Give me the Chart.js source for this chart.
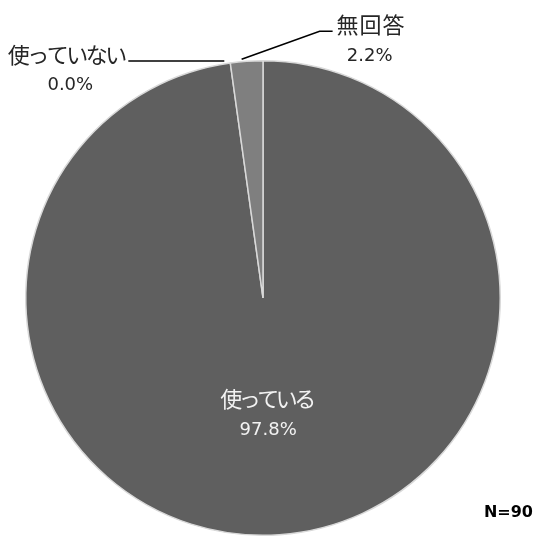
<!DOCTYPE html>
<html><head><meta charset="utf-8">
<script src="https://cdn.jsdelivr.net/npm/chart.js@4"></script>
<style>html,body{margin:0;padding:0;background:#fff;}#wrap{width:536px;height:539px;position:relative;}</style>
</head><body><div id="wrap"><canvas id="c" width="536" height="539"></canvas></div>
<script>
const categories = ['使っている', '使っていない', '無回答'];
const values = [97.8, 0.0, 2.2];
const percentLabels = ['97.8%', '0.0%', '2.2%'];
const sampleNote = 'N=90';

const JP = '"Noto Sans CJK JP", "Noto Sans", sans-serif';
const NUM = '"DejaVu Sans", sans-serif';

function drawSpaced(ctx, text, x, y, align, spacing) {
  ctx.letterSpacing = spacing + 'px';
  const w = ctx.measureText(text).width - spacing;
  ctx.textAlign = 'left';
  let sx = x;
  if (align === 'center') sx = x - w / 2;
  else if (align === 'right') sx = x - w;
  ctx.fillText(text, sx, y);
  ctx.letterSpacing = '0px';
}

const labelPlugin = {
  id: 'pieLabels',
  afterDatasetsDraw(chart) {
    const ctx = chart.ctx;
    const meta = chart.getDatasetMeta(0);
    ctx.save();
    ctx.textBaseline = 'middle';
    meta.data.forEach((arc, i) => {
      const {x, y, startAngle, endAngle, outerRadius} = arc.getProps(['x','y','startAngle','endAngle','outerRadius'], true);
      const mid = (startAngle + endAngle) / 2;
      const edgeX = x + Math.cos(mid) * outerRadius;
      const edgeY = y + Math.sin(mid) * outerRadius;
      if (i === 0) {
        const lx = x + Math.cos(mid) * outerRadius * 0.5;
        const ly = y + Math.sin(mid) * outerRadius * 0.5;
        ctx.fillStyle = '#f2f2f2';
        ctx.font = '22px ' + JP;
        drawSpaced(ctx, categories[i], lx - 3, ly - 18, 'center', -3.5);
        ctx.font = '18px ' + NUM;
        drawSpaced(ctx, percentLabels[i], lx - 3, ly + 14, 'center', 0);
      } else if (i === 1) {
        ctx.strokeStyle = '#000';
        ctx.lineWidth = 1.6;
        ctx.beginPath();
        ctx.moveTo(edgeX - 6, edgeY - 2);
        ctx.lineTo(edgeX - 102, edgeY - 2);
        ctx.stroke();
        ctx.fillStyle = '#262626';
        ctx.font = '22px ' + JP;
        drawSpaced(ctx, categories[i], edgeX - 103, edgeY - 8, 'right', -2.5);
        ctx.font = '18px ' + NUM;
        drawSpaced(ctx, percentLabels[i], edgeX - 160, edgeY + 22, 'center', 0);
      } else {
        ctx.strokeStyle = '#000';
        ctx.lineWidth = 1.6;
        ctx.beginPath();
        ctx.moveTo(edgeX - 5, edgeY - 2);
        ctx.lineTo(edgeX + 73, edgeY - 30);
        ctx.lineTo(edgeX + 86, edgeY - 30);
        ctx.stroke();
        ctx.fillStyle = '#262626';
        ctx.font = '22px ' + JP;
        drawSpaced(ctx, categories[i], edgeX + 90, edgeY - 37, 'left', 1);
        ctx.font = '18px ' + NUM;
        drawSpaced(ctx, percentLabels[i], edgeX + 123, edgeY - 5, 'center', 0);
      }
    });
    ctx.fillStyle = '#000';
    ctx.font = 'bold 16px ' + NUM;
    ctx.textAlign = 'right';
    ctx.fillText(sampleNote, 533, 513);
    ctx.restore();
  }
};

new Chart(document.getElementById('c'), {
  type: 'pie',
  data: {
    labels: categories,
    datasets: [{
      data: values,
      backgroundColor: ['#5f5f5f', '#5f5f5f', '#7f7f7f'],
      borderColor: '#d9d9d9',
      borderWidth: 1.5
    }]
  },
  options: {
    responsive: false,
    animation: false,
    layout: { padding: { left: 25, right: 35, top: 59, bottom: 2 } },
    plugins: { legend: { display: false }, tooltip: { enabled: false } }
  },
  plugins: [labelPlugin]
});
</script>
</body></html>
